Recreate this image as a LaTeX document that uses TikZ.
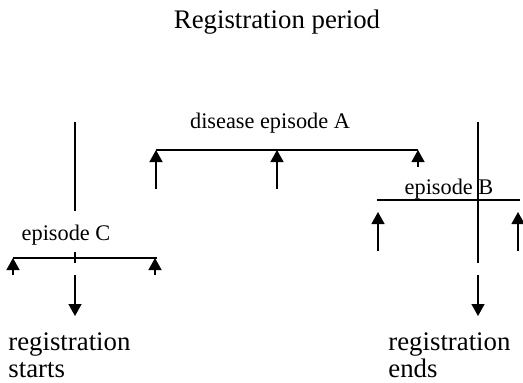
\documentclass[tikz,border=0pt]{standalone}
\usepackage{fontspec}
\setmainfont{Liberation Serif}
\usetikzlibrary{arrows.meta}
\begin{document}
\begin{tikzpicture}[x=0.5pt,y=-0.5pt,
  ln/.style={line width=0.7pt,black},
  arr/.style={ln,-{Triangle[length=6pt,width=6.5pt]}},
  big/.style={inner sep=0pt,font=\fontsize{13.4}{13.4}\selectfont},
  small/.style={inner sep=0pt,font=\fontsize{11.15}{13}\selectfont}]
\useasboundingbox (0,0) rectangle (523,382);
% title
\node[big] (title) at (277,22) {Registration period};
% registration start line
\coordinate (s1) at (75,122); \coordinate (s2) at (75,211);
\draw[ln] (s1) -- (s2);
\coordinate (st1) at (75,252); \coordinate (st2) at (75,263);
\draw[ln] (st1) -- (st2);
\coordinate (sa1) at (75,275); \coordinate (sa2) at (75,316);
\draw[arr] (sa1) -- (sa2);
\node[big,anchor=west,align=left] (regs) at (8,355) {registration\\starts};
% registration end line
\coordinate (e1) at (478,122); \coordinate (e2) at (478,263);
\draw[ln] (e1) -- (e2);
\coordinate (ea1) at (478,275); \coordinate (ea2) at (478,316);
\draw[arr] (ea1) -- (ea2);
\node[big,anchor=west,align=left] (rege) at (388,355) {registration\\ends};
% episode A
\node[small] (labA) at (270,123) {disease episode A};
\coordinate (A1) at (156,150); \coordinate (A2) at (418,150);
\draw[ln] (A1) -- (A2);
\coordinate (A1b) at (156,189); \draw[arr] (A1b) -- (A1);
\coordinate (Am) at (277,150); \coordinate (Amb) at (277,189); \draw[arr] (Amb) -- (Am);
\coordinate (A2b) at (418,167); \draw[arr] (A2b) -- (A2);
% episode B
\node[small] (labB) at (449,189) {episode B};
\coordinate (B1) at (377,200); \coordinate (B2) at (520,200);
\draw[ln] (B1) -- (B2);
\coordinate (Bl1) at (378,251); \coordinate (Bl2) at (378,212); \draw[arr] (Bl1) -- (Bl2);
\coordinate (Br1) at (518,251); \coordinate (Br2) at (518,212); \draw[arr] (Br1) -- (Br2);
% episode C
\node[small] (labC) at (66,235) {episode C};
\coordinate (C1) at (13,258); \coordinate (C2) at (157,258);
\draw[ln] (C1) -- (C2);
\coordinate (Cl) at (13,275); \draw[arr] (Cl) -- (C1);
\coordinate (Cr1) at (155,275); \coordinate (Cr2) at (155,258); \draw[arr] (Cr1) -- (Cr2);
\end{tikzpicture}
\end{document}
